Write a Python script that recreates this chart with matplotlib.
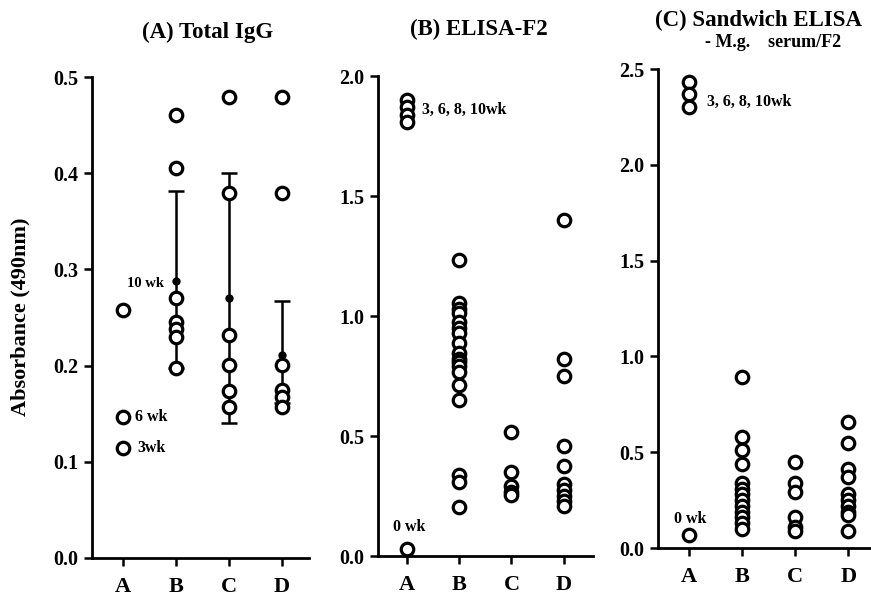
import numpy as np
import matplotlib.pyplot as plt

plt.rcParams['font.family'] = ['Liberation Serif', 'DejaVu Serif']
plt.rcParams['font.weight'] = 'bold'

groups = ['A', 'B', 'C', 'D']

# (A) Total IgG - individual values per group
igg_A = [0.258, 0.147, 0.114]
igg_B = [0.46, 0.405, 0.27, 0.245, 0.238, 0.23, 0.198]
igg_C = [0.479, 0.379, 0.232, 0.201, 0.174, 0.157]
igg_D = [0.479, 0.379, 0.201, 0.175, 0.167, 0.157]
# group means (filled dots) with lower / upper error for groups B-D
igg_mean = [0.288, 0.27, 0.211]
igg_err_lo = [0.09, 0.13, 0.05]
igg_err_hi = [0.094, 0.13, 0.056]

# (B) ELISA-F2
f2_A = [1.90, 1.87, 1.84, 1.81, 0.03]
f2_B = [1.233, 1.054, 1.03, 1.013, 0.975, 0.95, 0.929, 0.888, 0.846, 0.82,
        0.808, 0.79, 0.767, 0.713, 0.65, 0.337, 0.308, 0.204]
f2_C = [0.517, 0.35, 0.29, 0.265, 0.255]
f2_D = [1.40, 0.82, 0.75, 0.46, 0.375, 0.30, 0.275, 0.25, 0.23, 0.21]

# (C) Sandwich ELISA
sw_A = [2.43, 2.37, 2.30, 0.068]
sw_B = [0.89, 0.58, 0.51, 0.44, 0.34, 0.31, 0.28, 0.25, 0.22, 0.19,
        0.16, 0.13, 0.10]
sw_C = [0.45, 0.34, 0.29, 0.16, 0.11, 0.09]
sw_D = [0.66, 0.55, 0.41, 0.37, 0.28, 0.25, 0.22, 0.19, 0.17, 0.09]

fig = plt.figure(figsize=(8.71, 5.96), dpi=100)
axA = fig.add_axes([0.1056, 0.0638, 0.249, 0.807])
axB = fig.add_axes([0.434, 0.0671, 0.2468, 0.805])
axC = fig.add_axes([0.7555, 0.0805, 0.2445, 0.8037])

mk = dict(linestyle='none', marker='o', markersize=9, markerfacecolor='white',
          markeredgecolor='black', markeredgewidth=2.3, zorder=3)


def scatter_groups(ax, cols):
    for i, vals in enumerate(cols):
        ax.plot([i + 1] * len(vals), vals, **mk)


def style(ax, ylim, yticks, xlim):
    ax.set_xlim(*xlim)
    ax.set_ylim(*ylim)
    ax.set_yticks(yticks)
    ax.set_yticklabels(['%.1f' % t for t in yticks], fontsize=14.5, fontweight='bold')
    ax.set_xticks([1, 2, 3, 4])
    ax.set_xticklabels(groups, fontsize=16, fontweight='bold')
    for s in ['top', 'right']:
        ax.spines[s].set_visible(False)
    for s in ['left', 'bottom']:
        ax.spines[s].set_linewidth(2)
    ax.tick_params(direction='out', length=6, width=1.8, pad=4)
    ax.tick_params(axis='x', pad=8)
    ax.patch.set_alpha(0)


# panel A
scatter_groups(axA, [igg_A, igg_B, igg_C, igg_D])
axA.errorbar([2, 3, 4], igg_mean, yerr=[igg_err_lo, igg_err_hi], fmt='o', color='black',
             markersize=5, capsize=6, elinewidth=1.8, capthick=1.8, zorder=2)
style(axA, (0, 0.5), [0.0, 0.1, 0.2, 0.3, 0.4, 0.5], (0.415, 4.51))
axA.text(1.78, 0.285, '10 wk', ha='right', va='center', fontsize=10.5, fontweight='bold')
axA.text(1.23, 0.147, '6 wk', ha='left', va='center', fontsize=11.5, fontweight='bold')
axA.text(1.27, 0.114, '3wk', ha='left', va='center', fontsize=11.5, fontweight='bold')
fig.text(0.024, 0.468, 'Absorbance (490nm)', rotation=90, ha='center', va='center',
         fontsize=16, fontweight='bold')

# panel B
scatter_groups(axB, [f2_A, f2_B, f2_C, f2_D])
style(axB, (0, 2.0), [0.0, 0.5, 1.0, 1.5, 2.0], (0.445, 4.56))
axB.text(1.29, 1.86, '3, 6, 8, 10wk', ha='left', va='center', fontsize=11.5, fontweight='bold')
axB.text(1.05, 0.12, '0 wk', ha='center', va='center', fontsize=11.5, fontweight='bold')

# panel C
scatter_groups(axC, [sw_A, sw_B, sw_C, sw_D])
style(axC, (0, 2.5), [0.0, 0.5, 1.0, 1.5, 2.0, 2.5], (0.415, 4.43))
axC.text(1.34, 2.33, '3, 6, 8, 10wk', ha='left', va='center', fontsize=11.5, fontweight='bold')
axC.text(1.03, 0.15, '0 wk', ha='center', va='center', fontsize=11.5, fontweight='bold')

fig.text(0.238, 0.945, '(A) Total IgG', ha='center', va='center', fontsize=16.5, fontweight='bold')
fig.text(0.55, 0.95, '(B) ELISA-F2', ha='center', va='center', fontsize=16.5, fontweight='bold')
fig.text(0.871, 0.966, '(C) Sandwich ELISA', ha='center', va='center', fontsize=16.5, fontweight='bold')
fig.text(0.887, 0.928, '- M.g.    serum/F2', ha='center', va='center', fontsize=13, fontweight='bold')

fig.savefig('out.png', dpi=100)
